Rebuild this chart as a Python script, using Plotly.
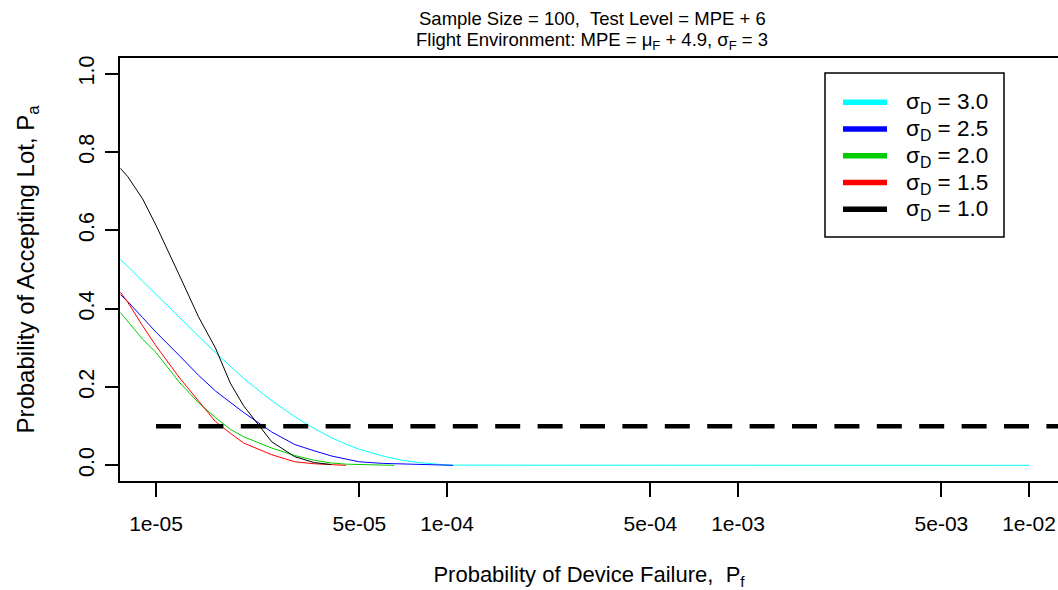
import plotly.graph_objects as go

# Probability of device failure (x) shared by all operating-characteristic curves
pf = [7.55e-6, 8e-6, 9e-6, 1e-5, 1.2e-5, 1.4e-5, 1.6e-5, 1.8e-5, 2e-5, 2.5e-5,
      3e-5, 3.5e-5, 4e-5, 4.5e-5, 5e-5, 6e-5, 6.6e-5, 7e-5, 8e-5, 9e-5,
      1e-4, 1.05e-4, 1e-3, 1e-2]

# Probability of accepting the lot for each device spread sigma_D
pa_sd30 = [0.525, 0.508, 0.470, 0.436, 0.378, 0.330, 0.288, 0.252, 0.222, 0.165,
           0.124, 0.094, 0.071, 0.054, 0.041, 0.024, 0.016, 0.013, 0.007, 0.003,
           0.001, 0.0005, 0.0, 0.0]
pa_sd25 = [0.436, 0.418, 0.377, 0.340, 0.281, 0.230, 0.190, 0.160, 0.135, 0.085,
           0.053, 0.037, 0.024, 0.016, 0.009, 0.005, 0.004, 0.003, 0.001, 0.0005,
           0.0, 0.0, None, None]
pa_sd20 = [0.390, 0.367, 0.322, 0.288, 0.213, 0.160, 0.122, 0.092, 0.073, 0.044,
           0.025, 0.013, 0.006, 0.003, 0.002, 0.001, 0.0, None, None, None,
           None, None, None, None]
pa_sd15 = [0.442, 0.416, 0.356, 0.305, 0.225, 0.165, 0.112, 0.082, 0.057, 0.027,
           0.009, 0.004, 0.001, 0.0, None, None, None, None, None, None,
           None, None, None, None]
pa_sd10 = [0.758, 0.737, 0.680, 0.613, 0.487, 0.379, 0.300, 0.210, 0.152, 0.060,
           0.022, 0.007, 0.002, None, None, None, None, None, None, None,
           None, None, None, None]

sigma_d = ["3.0", "2.5", "2.0", "1.5", "1.0"]
series = [pa_sd30, pa_sd25, pa_sd20, pa_sd15, pa_sd10]
colors = ["#00FFFF", "#0000FF", "#00CD00", "#FF0000", "#000000"]

# Consumer-risk reference level
ref_pf = [1e-5, 2e-2]
ref_pa = [0.1, 0.1]

x_tick_vals = [1e-5, 5e-5, 1e-4, 5e-4, 1e-3, 5e-3, 1e-2]
x_tick_text = ["1e-05", "5e-05", "1e-04", "5e-04", "1e-03", "5e-03", "1e-02"]
y_tick_vals = [0.0, 0.2, 0.4, 0.6, 0.8, 1.0]

W, H = 1058, 590
M_L, M_R, M_T, M_B = 120, 0, 58, 109
PLOT_W = W - M_L - M_R
PLOT_H = H - M_T - M_B
FONT = "Liberation Sans, Arial, sans-serif"


def px_x(px):
    return (px - M_L) / PLOT_W


def px_y(py):
    return (H - M_B - py) / PLOT_H


fig = go.Figure()

for label, vals, col in zip(sigma_d, series, colors):
    fig.add_trace(go.Scatter(
        x=pf, y=vals, mode="lines", name="σ<sub>D</sub> = " + label,
        line=dict(color=col, width=1), showlegend=False,
        connectgaps=False))

fig.add_trace(go.Scatter(
    x=ref_pf, y=ref_pa, mode="lines", showlegend=False,
    line=dict(color="black", width=4.5, dash="25px,17.4px")))

# Legend box drawn in paper space
LEG_X0, LEG_X1, LEG_Y0, LEG_Y1 = 825, 1004, 73, 237
ROW0, ROW_STEP = 102.3, 26.75
shapes = [dict(type="rect", xref="paper", yref="paper",
               x0=px_x(LEG_X0), x1=px_x(LEG_X1), y0=px_y(LEG_Y1), y1=px_y(LEG_Y0),
               line=dict(color="black", width=1.5), fillcolor="white", layer="above")]
annotations = []
for i, (label, col) in enumerate(zip(sigma_d, colors)):
    ry = ROW0 + i * ROW_STEP
    shapes.append(dict(type="line", xref="paper", yref="paper",
                       x0=px_x(843), x1=px_x(887), y0=px_y(ry), y1=px_y(ry),
                       line=dict(color=col, width=5.5), layer="above"))
    annotations.append(dict(
        xref="paper", yref="paper", x=px_x(904), y=px_y(ry + 1),
        xanchor="left", yanchor="middle", showarrow=False,
        text="σ<sub>D</sub> = " + label,
        font=dict(family=FONT, size=22.5, color="black")))

# Two-line heading
annotations.append(dict(
    xref="paper", yref="paper", x=px_x(592), y=px_y(18.5),
    xanchor="center", yanchor="middle", showarrow=False,
    text="Sample Size = 100,&nbsp; Test Level = MPE + 6",
    font=dict(family=FONT, size=18.5, color="black")))
annotations.append(dict(
    xref="paper", yref="paper", x=px_x(592), y=px_y(41),
    xanchor="center", yanchor="middle", showarrow=False,
    text="Flight Environment: MPE = μ<sub>F</sub> + 4.9, σ<sub>F</sub> = 3",
    font=dict(family=FONT, size=18.5, color="black")))

fig.update_layout(
    width=W, height=H,
    margin=dict(l=M_L, r=M_R, t=M_T, b=M_B, autoexpand=False),
    paper_bgcolor="white", plot_bgcolor="white",
    font=dict(family=FONT, size=21, color="black"),
    shapes=shapes, annotations=annotations,
    xaxis=dict(
        type="log", range=[-5.1237, -1.9003],
        tickmode="array", tickvals=x_tick_vals, ticktext=x_tick_text,
        ticks="outside", ticklen=14, tickwidth=1.5, tickcolor="black",
        showline=True, linewidth=1.5, linecolor="black", mirror=True,
        showgrid=False, zeroline=False, ticklabelstandoff=9,
        tickfont=dict(family=FONT, size=21, color="black"),
        title=dict(text="Probability of Device Failure,&nbsp; P<sub>f</sub>",
                   standoff=34, font=dict(family=FONT, size=22, color="black")),
        automargin=False),
    yaxis=dict(
        range=[-0.04, 1.04],
        tickmode="array", tickvals=y_tick_vals, tickformat=".1f",
        ticks="outside", ticklen=13, tickwidth=1.5, tickcolor="black",
        tickangle=-90,
        showline=True, linewidth=1.5, linecolor="black", mirror=False,
        showgrid=False, zeroline=False, ticklabelstandoff=3,
        tickfont=dict(family=FONT, size=21.5, color="black"),
        title=dict(text="Probability of Accepting Lot, P<sub>a</sub>",
                   standoff=33, font=dict(family=FONT, size=24, color="black")),
        automargin=False),
)

fig.write_html("out.html")
